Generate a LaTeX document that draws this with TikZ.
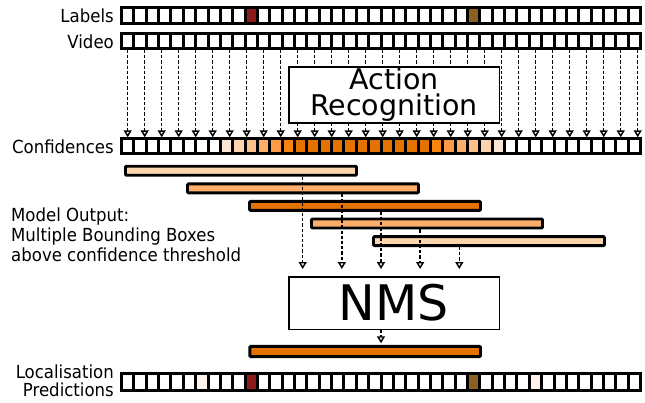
\documentclass[tikz,border=0pt]{standalone}
\usepackage{fontspec}
\setmainfont{DejaVu Sans}[FakeStretch=0.92]
\newfontfamily\widefont{DejaVu Sans}
\usetikzlibrary{arrows.meta}
\definecolor{cA}{HTML}{FEE6D5}
\definecolor{cB}{HTML}{FDD3B0}
\definecolor{cC}{HTML}{FDC08A}
\definecolor{cD}{HTML}{FDAE6B}
\definecolor{cE}{HTML}{FD9A48}
\definecolor{cF}{HTML}{F8850F}
\definecolor{cG}{HTML}{E37200}
\definecolor{peach}{HTML}{FDD5AC}
\definecolor{lblred}{HTML}{8E1B1B}
\definecolor{lblbrown}{HTML}{8C6020}
\definecolor{faint}{HTML}{FDF2EC}
\newcommand\drawstrip[2]{%
  \foreach \i in {0,...,41}
    \draw[cellbox] ({121.5+12.357*\i},#1) rectangle ({121.5+12.357*(\i+1)},#2);}
\newcommand\paintcells[3]{%
  \foreach \i/\c in {#3}
    \draw[cellbox,fill=\c] ({121.5+12.357*\i},#1) rectangle ({121.5+12.357*(\i+1)},#2);}
\begin{document}
\begin{tikzpicture}[x=1bp,y=-1bp,
  cellbox/.style={draw=black,line width=3bp,fill=white},
  barbox/.style={draw=black,line width=2.9bp,rounded corners=1bp,inner sep=0pt,minimum width=231bp,minimum height=9bp},
  flow/.style={draw=black,line width=1.45bp,dash pattern=on 3.2bp off 2bp,-{Triangle[length=7bp,width=8bp,fill=white]}},
  procbox/.style={draw=black,line width=1.5bp,fill=white,inner sep=0pt,minimum width=210.5bp,align=center},
  lbl/.style={inner sep=0pt,font=\fontsize{18bp}{20.5bp}\selectfont}]
\useasboundingbox[fill=white] (0,0) rectangle (645,402);

% labels of rows
\node[lbl,anchor=base east] (tlabels) at (114,22.7) {Labels};
\node[lbl,anchor=base east] (tvideo) at (114,48.3) {Video};
\node[lbl,anchor=base east] (tconf) at (114,153.3) {Confidences};
\node[lbl,anchor=base west] (tmo1) at (11,221) {Model Output:};
\node[lbl,anchor=base west] (tmo2) at (11,241.7) {Multiple Bounding Boxes};
\node[lbl,anchor=base west] (tmo3) at (11,261.7) {above confidence threshold};
\node[lbl,anchor=base east] (tloc1) at (114,378.3) {Localisation};
\node[lbl,anchor=base east] (tloc2) at (114,396.7) {Predictions};

% strips
\drawstrip{7.5}{23.5}
\paintcells{7.5}{23.5}{10/lblred,28/lblbrown}
\drawstrip{33.2}{48.5}
\drawstrip{138.8}{153.5}
\paintcells{138.8}{153.5}{8/cA,9/cB,10/cC,11/cD,12/cE,13/cF,14/cG,15/cG,16/cG,17/cG,18/cG,19/cG,20/cG,21/cG,22/cG,23/cG,24/cG,25/cF,26/cE,27/cD,28/cC,29/cB,30/cA}
\drawstrip{373.2}{390.2}
\paintcells{373.2}{390.2}{6/faint,10/lblred,28/lblbrown,33/faint}

% frame-wise arrows video -> confidences
\foreach \k in {0,...,30}{
  \coordinate (v\k) at ({127.7+17*\k},50);
  \coordinate (c\k) at ({127.7+17*\k},137.3);
  \draw[flow] (v\k) -- (c\k);
}

% action recognition box
\node[procbox,minimum height=56bp,font=\widefont\fontsize{28.5bp}{26.5bp}\selectfont] (ar) at (394,94.75) {Action\\Recognition};

% bounding boxes
\node[barbox,fill=peach] (b0) at (241,170.7) {};
\node[barbox,fill=cD] (b1) at (303,188.3) {};
\node[barbox,fill=cG] (b2) at (365,205.9) {};
\node[barbox,fill=cD] (b3) at (427,223.5) {};
\node[barbox,fill=peach] (b4) at (489,241.1) {};

% NMS box
\node[procbox,minimum height=52.5bp,font=\widefont\fontsize{49bp}{52bp}\selectfont] (nms) at (394,303) {NMS};

\foreach \k in {0,...,4}{
  \coordinate (a\k) at ({302.7+39.15*\k},0);
  \draw[flow,shorten >=7bp] (b\k.south -| a\k) -- (nms.north -| a\k);
}

% final box
\node[barbox,fill=cG,minimum width=230.7bp,minimum height=10.2bp] (fb) at (365.15,351.5) {};
\coordinate (af) at (381,0);
\draw[flow,shorten >=1.7bp] (nms.south -| af) -- (fb.north -| af);
\end{tikzpicture}
\end{document}
